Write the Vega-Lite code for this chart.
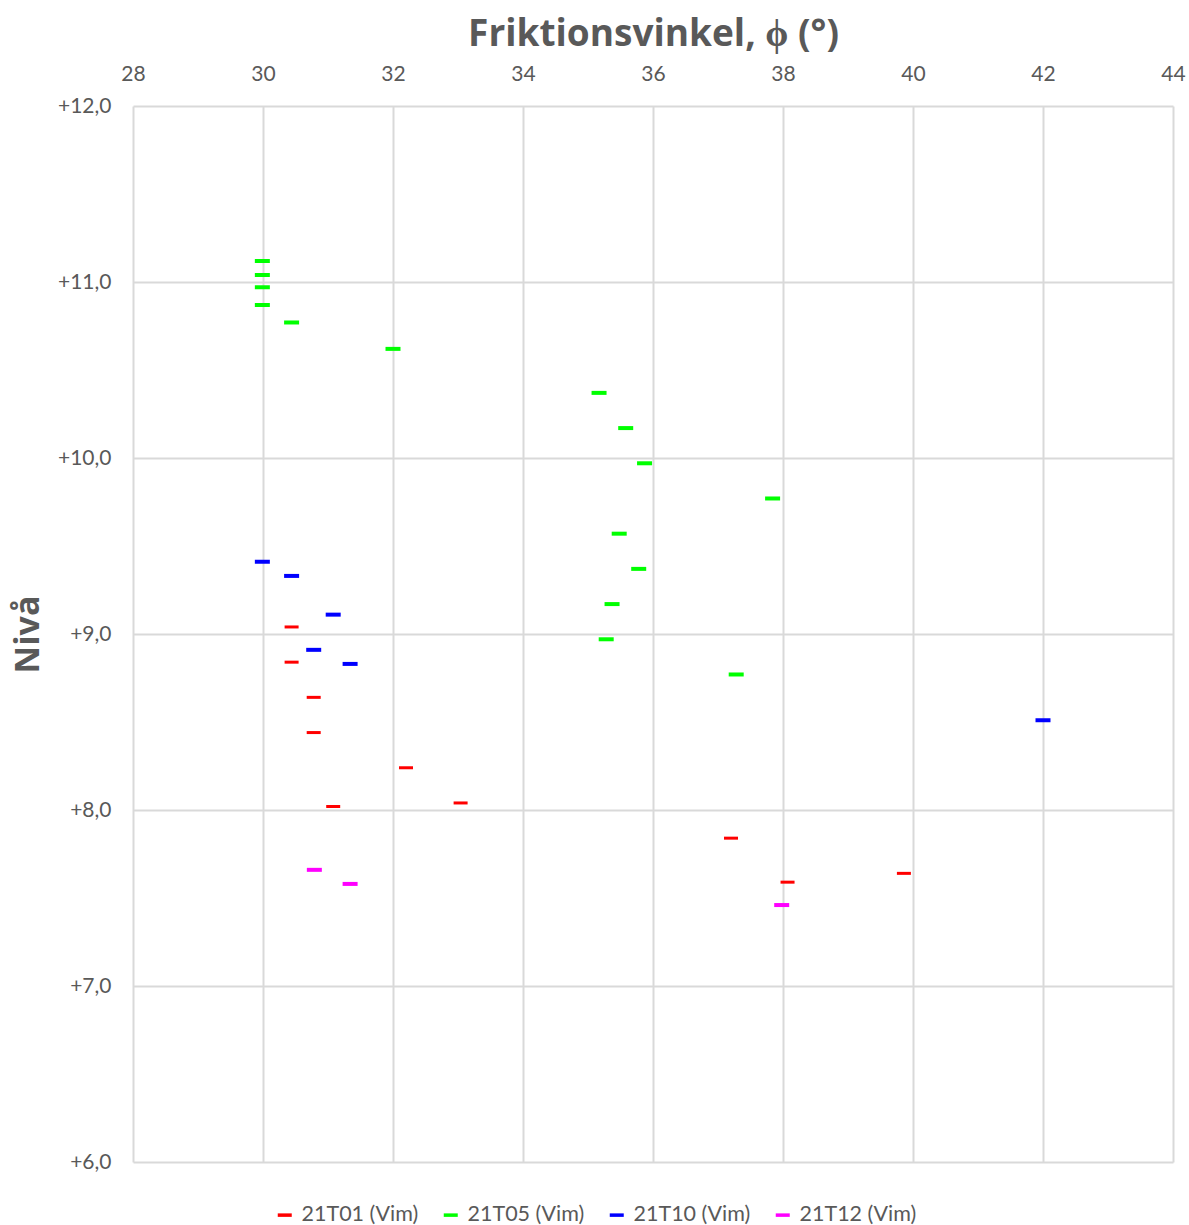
{
  "$schema": "https://vega.github.io/schema/vega-lite/v6.json",
  "width": 1040,
  "height": 1056,
  "autosize": {"type": "none"},
  "padding": {"left": 133, "top": 106, "right": 16, "bottom": 63},
  "background": "white",
  "config": {
    "font": "Lato",
    "view": {"stroke": null},
    "axis": {"gridColor": "#d9d9d9", "gridWidth": 2, "domain": false, "ticks": false, "labelColor": "#595959", "titleColor": "#595959", "labelFont": "Lato", "titleFont": "Open Sans"}
  },
  "data": {"values": [
    {"serie": "21T01 (Vim)", "phi": 30.44, "niva": 9.04},
    {"serie": "21T01 (Vim)", "phi": 30.44, "niva": 8.84},
    {"serie": "21T01 (Vim)", "phi": 30.78, "niva": 8.64},
    {"serie": "21T01 (Vim)", "phi": 30.78, "niva": 8.44},
    {"serie": "21T01 (Vim)", "phi": 32.2, "niva": 8.24},
    {"serie": "21T01 (Vim)", "phi": 31.08, "niva": 8.02},
    {"serie": "21T01 (Vim)", "phi": 33.04, "niva": 8.04},
    {"serie": "21T01 (Vim)", "phi": 37.2, "niva": 7.84},
    {"serie": "21T01 (Vim)", "phi": 38.07, "niva": 7.59},
    {"serie": "21T01 (Vim)", "phi": 39.86, "niva": 7.64},
    {"serie": "21T05 (Vim)", "phi": 29.99, "niva": 11.12},
    {"serie": "21T05 (Vim)", "phi": 29.99, "niva": 11.04},
    {"serie": "21T05 (Vim)", "phi": 29.99, "niva": 10.97},
    {"serie": "21T05 (Vim)", "phi": 29.99, "niva": 10.87},
    {"serie": "21T05 (Vim)", "phi": 30.44, "niva": 10.77},
    {"serie": "21T05 (Vim)", "phi": 32.0, "niva": 10.62},
    {"serie": "21T05 (Vim)", "phi": 35.17, "niva": 10.37},
    {"serie": "21T05 (Vim)", "phi": 35.58, "niva": 10.17},
    {"serie": "21T05 (Vim)", "phi": 35.87, "niva": 9.97},
    {"serie": "21T05 (Vim)", "phi": 37.84, "niva": 9.77},
    {"serie": "21T05 (Vim)", "phi": 35.48, "niva": 9.57},
    {"serie": "21T05 (Vim)", "phi": 35.78, "niva": 9.37},
    {"serie": "21T05 (Vim)", "phi": 35.37, "niva": 9.17},
    {"serie": "21T05 (Vim)", "phi": 35.28, "niva": 8.97},
    {"serie": "21T05 (Vim)", "phi": 37.28, "niva": 8.77},
    {"serie": "21T10 (Vim)", "phi": 29.99, "niva": 9.41},
    {"serie": "21T10 (Vim)", "phi": 30.44, "niva": 9.33},
    {"serie": "21T10 (Vim)", "phi": 31.08, "niva": 9.11},
    {"serie": "21T10 (Vim)", "phi": 30.78, "niva": 8.91},
    {"serie": "21T10 (Vim)", "phi": 31.34, "niva": 8.83},
    {"serie": "21T10 (Vim)", "phi": 42.0, "niva": 8.51},
    {"serie": "21T12 (Vim)", "phi": 30.79, "niva": 7.66},
    {"serie": "21T12 (Vim)", "phi": 31.34, "niva": 7.58},
    {"serie": "21T12 (Vim)", "phi": 37.98, "niva": 7.46}
  ]},
  "encoding": {
    "x": {"field": "phi", "type": "quantitative", "scale": {"domain": [28, 44], "nice": false, "zero": false},
      "axis": {"orient": "top", "values": [28, 30, 32, 34, 36, 38, 40, 42, 44], "title": "Friktionsvinkel, ϕ (°)", "titleFontSize": 37, "titleFontWeight": "bold", "titlePadding": 10, "labelFontSize": 21, "labelPadding": 22, "labelFlush": false}},
    "y": {"field": "niva", "type": "quantitative", "scale": {"domain": [6, 12], "nice": false, "zero": false},
      "axis": {"values": [6, 7, 8, 9, 10, 11, 12], "title": "Nivå", "titleFontSize": 34, "titleFontWeight": "bold", "titlePadding": 12, "labelFontSize": 21, "labelPadding": 22, "labelFlush": false,
        "labelExpr": "(datum.value >= 0 ? '+' : '') + replace(format(datum.value, '.1f'), '.', ',')"}},
    "color": {"field": "serie", "type": "nominal",
      "scale": {"domain": ["21T01 (Vim)", "21T05 (Vim)", "21T10 (Vim)", "21T12 (Vim)"], "range": ["#ff0000", "#00ff00", "#0000ff", "#ff00ff"]},
      "legend": {"orient": "none", "legendX": 141, "legendY": 1098, "direction": "horizontal", "title": null, "symbolType": "M-1,-0.25H1V0.25H-1Z", "symbolSize": 196, "symbolOpacity": 1, "symbolStrokeWidth": 0, "labelFontSize": 21.5, "labelColor": "#595959", "labelFont": "Lato", "columnPadding": 21, "labelOffset": 6, "labelLimit": 200}}
  },
  "layer": [
    {"transform": [{"filter": "datum.serie === '21T01 (Vim)'"}], "mark": {"type": "tick", "orient": "horizontal", "size": 14, "thickness": 3, "opacity": 1}},
    {"transform": [{"filter": "datum.serie !== '21T01 (Vim)'"}], "mark": {"type": "tick", "orient": "horizontal", "size": 15, "thickness": 4, "opacity": 1}}
  ]
}
